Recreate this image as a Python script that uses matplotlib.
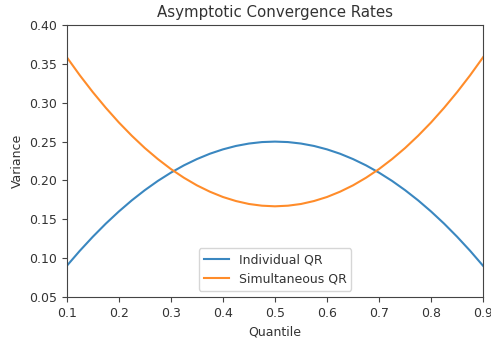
import matplotlib
matplotlib.use("Agg")
import matplotlib.pyplot as plt

quantiles = [0.1, 0.125, 0.15, 0.175, 0.2, 0.225, 0.25, 0.275, 0.3, 0.325, 0.35, 0.375, 0.4, 0.425, 0.45, 0.475, 0.5,
             0.525, 0.55, 0.575, 0.6, 0.625, 0.65, 0.675, 0.7, 0.725, 0.75, 0.775, 0.8, 0.825, 0.85, 0.875, 0.9]
individual_qr = [0.090, 0.1094, 0.1275, 0.1444, 0.160, 0.1744, 0.1875, 0.1994, 0.210, 0.2194, 0.2275, 0.2344, 0.240, 0.2444, 0.2475, 0.2494, 0.250,
                 0.2494, 0.2475, 0.2444, 0.240, 0.2344, 0.2275, 0.2194, 0.210, 0.1994, 0.1875, 0.1744, 0.160, 0.1444, 0.1275, 0.1094, 0.090]
simultaneous_qr = [0.3587, 0.3354, 0.3137, 0.2935, 0.2747, 0.2575, 0.2417, 0.2275, 0.2147, 0.2035, 0.1937, 0.1855, 0.1787, 0.1735, 0.1697, 0.1675, 0.1667,
                   0.1675, 0.1697, 0.1735, 0.1787, 0.1855, 0.1937, 0.2035, 0.2147, 0.2275, 0.2417, 0.2575, 0.2747, 0.2935, 0.3137, 0.3354, 0.3587]

plt.rcParams['font.size'] = 9
plt.rcParams['text.color'] = '#333333'
plt.rcParams['xtick.labelcolor'] = '#333333'
plt.rcParams['ytick.labelcolor'] = '#333333'
plt.rcParams['axes.labelcolor'] = '#333333'

fig = plt.figure(figsize=(4.91, 3.39), dpi=100)
ax = fig.add_axes([0.136, 0.124, 0.848, 0.802])
ax.plot(quantiles, individual_qr, color="#3a87c0", label="Individual QR", lw=1.5)
ax.plot(quantiles, simultaneous_qr, color="#ff8c2a", label="Simultaneous QR", lw=1.5)
ax.set_xlim(0.1, 0.9)
ax.set_ylim(0.05, 0.40)
ax.set_xticks([0.1, 0.2, 0.3, 0.4, 0.5, 0.6, 0.7, 0.8, 0.9])
ax.set_yticks([0.05, 0.10, 0.15, 0.20, 0.25, 0.30, 0.35, 0.40])
ax.set_yticklabels(["0.05", "0.10", "0.15", "0.20", "0.25", "0.30", "0.35", "0.40"])
for s in ax.spines.values():
    s.set_color('#444444')
ax.tick_params(color='#444444')
ax.set_title("Asymptotic Convergence Rates", fontsize=10.8)
ax.set_xlabel("Quantile")
ax.set_ylabel("Variance")
ax.legend(loc="lower center")
fig.savefig("out.png", dpi=100)
